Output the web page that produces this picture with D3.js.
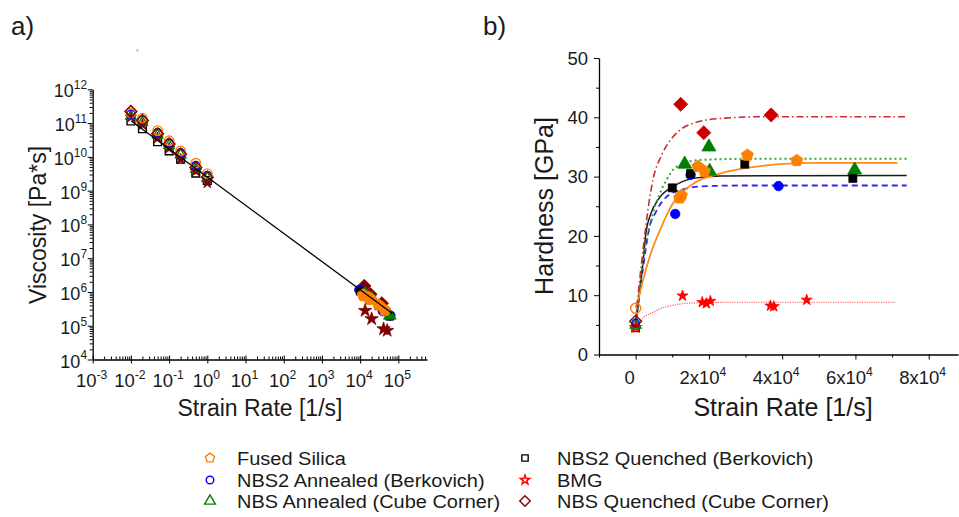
<!DOCTYPE html>
<html>
<head>
<meta charset="utf-8">
<script src="https://cdn.jsdelivr.net/npm/d3@7"></script>
<style>
  body { margin: 0; background: #fff; }
  svg { display: block; font-family: "Liberation Sans", Arial, sans-serif; }
</style>
</head>
<body>
<svg id="chart" width="959" height="517"></svg>
<script>
// ─── DATA ─────────────────────────────────────────────────────────────────────

// a) viscosity vs strain rate, quasi-static range (open markers)
const lowRates      = [0.01, 0.02, 0.05, 0.1, 0.2, 0.5, 1];
const viscFusedLow  = [2.0e11, 1.4e11, 6.0e10, 3.0e10, 1.5e10, 6.5e9, 3.2e9];
const viscNbs2AnLow = [1.8e11, 1.25e11, 5.2e10, 2.6e10, 1.3e10, 5.5e9, 2.8e9];
const viscNbsAnLow  = [1.6e11, 1.05e11, 4.4e10, 2.2e10, 1.15e10, 4.3e9, 2.4e9];
const viscNbs2QuLow = [1.15e11, 6.8e10, 2.8e10, 1.5e10, 8.5e9, 3.3e9, 2.0e9];
const viscBmgLow    = [1.5e11, 9.0e10, 3.6e10, 1.8e10, 8.5e9, 3.8e9, 1.7e9];
const viscNbsQuLow  = [2.2e11, 1.2e11, 4.8e10, 2.4e10, 1.2e10, 4.8e9, 2.5e9];

// a) viscosity at impact strain rates (filled markers)
const rateFusedA  = [12000, 12500, 17000, 18800, 30500, 44000];
const viscFusedA  = [8.2e5, 7.8e5, 6.8e5, 6.0e5, 4.1e5, 2.9e5];
const rateNbs2AnA = [9500, 15000, 39000, 62000];
const viscNbs2AnA = [1.15e6, 7.2e5, 2.7e5, 2.0e5];
const rateNbsAnA  = [13400, 20000, 20200, 59800];
const viscNbsAnA  = [8.8e5, 6.5e5, 5.7e5, 2.0e5];
const rateNbs2QuA = [10000, 15000, 29800, 59300];
const viscNbs2QuA = [1.05e6, 7.4e5, 4.0e5, 1.9e5];
const rateBmgA    = [13500, 20000, 41000, 51000];
const viscBmgA    = [2.8e5, 1.6e5, 8.0e4, 7.2e4];
const rateNbsQuA  = [12800, 18600, 37000];
const viscNbsQuA  = [1.5e6, 8.5e5, 4.6e5];

// a) power-law fit line
const fitRateA = [0.0102, 70000];
const fitViscA = [1.15e11, 2.3e5];

// b) hardness vs strain rate
const rateFused  = [12000, 12500, 17000, 18800, 30500, 44000];
const hardFused  = [26.4, 26.8, 31.7, 30.9, 33.6, 32.7];
const rateNbs2An = [10800, 15000, 39000];
const hardNbs2An = [23.7, 30.3, 28.4];
const rateNbsAn  = [13400, 20000, 20200, 59800];
const hardNbsAn  = [32.1, 35.0, 30.9, 31.1];
const rateNbs2Qu = [10000, 15000, 29800, 59300];
const hardNbs2Qu = [28.1, 30.5, 32.1, 29.7];
const rateBmg    = [12800, 18200, 19300, 20400, 36800, 37700, 46700];
const hardBmg    = [9.9, 8.8, 8.6, 9.0, 8.2, 8.1, 9.2];
const rateNbsQu  = [12300, 18600, 37000];
const hardNbsQu  = [42.2, 37.4, 40.4];

// b) quasi-static hardness (open markers at zero strain rate)
const hardStatic = { fused: 7.8, nbs2An: 5.3, nbsAn: 5.0, nbs2Qu: 4.5, bmg: 4.6, nbsQu: 5.6 };

// b) fitted curves
const curveNbsQuX  = [0, 1000, 2000, 3500, 4700, 7000, 9300, 12000, 15700, 23000, 35000, 74000];
const curveNbsQuY  = [5.6, 12, 17.5, 25, 29.4, 33.5, 36, 37.8, 39, 39.8, 40.1, 40.1];
const curveNbs2QuX = [0, 1000, 2000, 2900, 4000, 6600, 10200, 15700, 23000, 74000];
const curveNbs2QuY = [4.8, 10, 15.5, 20.9, 23.5, 26.5, 28.3, 29.7, 30.1, 30.2];
const curveNbs2AnX = [0, 1000, 2000, 3800, 5500, 7500, 12000, 19300, 30000, 74000];
const curveNbs2AnY = [5.2, 10, 14.5, 21.5, 24, 26.0, 27.7, 28.4, 28.5, 28.5];
const curveNbsAnX  = [0, 1000, 2000, 4700, 6500, 8400, 11000, 17500, 30000, 74000];
const curveNbsAnY  = [5.0, 10.5, 15.5, 23.8, 27, 29.4, 31.6, 32.8, 33.0, 33.0];
const curveFusedX  = [0, 1000, 2000, 3800, 6600, 10200, 15700, 23000, 32000, 39300, 50000, 71500];
const curveFusedY  = [7.8, 10, 12.5, 16.4, 20.9, 25.5, 28.8, 30.5, 31.6, 32.1, 32.3, 32.3];
const curveBmgX    = [0, 2000, 4700, 7000, 10200, 15700, 25000, 71000];
const curveBmgY    = [4.8, 6.2, 7.1, 7.8, 8.3, 8.7, 8.8, 8.8];

// tick values
const logXMajorA = [-3, -2, -1, 0, 1, 2, 3, 4, 5];
const logYMajorA = [4, 5, 6, 7, 8, 9, 10, 11, 12];
const hardTicks  = [0, 10, 20, 30, 40, 50];
const rateTicksB = [0, 2, 4, 6, 8];   // ×10^4

// ─── SYMBOLS & STYLES ─────────────────────────────────────────────────────────

const symbolPentagon = {
  draw(ctx, size) {
    const r = Math.sqrt(size / 2.378);
    for (let i = 0; i < 5; i++) {
      const a = -Math.PI / 2 + i * 2 * Math.PI / 5;
      i ? ctx.lineTo(r * Math.cos(a), r * Math.sin(a)) : ctx.moveTo(r * Math.cos(a), r * Math.sin(a));
    }
    ctx.closePath();
  }
};
const symbolRhomb = {
  draw(ctx, size) {
    const r = Math.sqrt(size / 2);
    ctx.moveTo(0, -r); ctx.lineTo(r, 0); ctx.lineTo(0, r); ctx.lineTo(-r, 0); ctx.closePath();
  }
};

const C = {
  orange: "#ff8000", blue: "#0000ff", green: "#008000", black: "#000000",
  red: "#ff0000", darkRed: "#800000", diamondRed: "#cc0000"
};

const svg = d3.select("#chart");
const sym = (type, size) => d3.symbol().type(type).size(size)();

function marker(g, x, y, type, size, color, filled) {
  g.append("path")
    .attr("d", sym(type, size))
    .attr("transform", `translate(${x},${y})`)
    .attr("fill", filled ? color : "#fff")
    .attr("fill-opacity", filled ? 1 : 0)
    .attr("stroke", color)
    .attr("stroke-width", filled ? 0.8 : 1.4);
}

function pow10Label(g, x, y, base, exp, fs, anchor) {
  const t = g.append("text").attr("x", x).attr("y", y)
    .attr("text-anchor", anchor).attr("font-size", fs).attr("fill", "#1a1a1a");
  t.append("tspan").text(base);
  t.append("tspan").attr("font-size", fs * 0.66).attr("dy", -fs * 0.45).text(exp);
  return t;
}

// ─── PANEL A ──────────────────────────────────────────────────────────────────

const xA = d3.scaleLog().domain([1e-3, Math.pow(10, 5.75)]).range([92.7, 427]);
const yA = d3.scaleLog().domain([1e4, 1e12]).range([359.5, 89.3]);
const gA = svg.append("g");

function logMinor(lo, hi, dom) {
  const out = [];
  for (let e = lo; e <= hi; e++) for (let k = 2; k < 10; k++) {
    const v = k * Math.pow(10, e);
    if (v >= dom[0] && v <= dom[1]) out.push(v);
  }
  return out;
}

// y axis (ticks outward)
gA.append("g").attr("transform", `translate(${xA.range()[0]},0)`)
  .call(d3.axisLeft(yA).tickValues(logMinor(4, 11, yA.domain())).tickSize(3).tickFormat("").tickSizeOuter(0))
  .call(g => g.select(".domain").remove());
gA.append("g").attr("transform", `translate(${xA.range()[0]},0)`)
  .call(d3.axisLeft(yA).tickValues(logYMajorA.map(e => Math.pow(10, e))).tickSize(5).tickFormat("").tickSizeOuter(0))
  .call(g => g.select(".domain").attr("stroke-width", 1.3));
logYMajorA.forEach(e => pow10Label(gA, 87, yA(Math.pow(10, e)) + 8, "10", e, 18, "end"));

// x axis (minor inward, major crossing)
gA.append("g").attr("transform", `translate(0,${yA.range()[0]})`)
  .call(d3.axisBottom(xA).tickValues(logMinor(-3, 5, xA.domain())).tickSize(-3).tickFormat("").tickSizeOuter(0))
  .call(g => g.select(".domain").remove());
gA.append("g").attr("transform", `translate(0,${yA.range()[0]})`)
  .call(d3.axisBottom(xA).tickValues(logXMajorA.map(e => Math.pow(10, e))).tickSize(4).tickFormat("").tickSizeOuter(0))
  .call(g => g.select(".domain").attr("stroke-width", 1.3))
  .call(g => g.selectAll(".tick line").attr("y1", -4));
logXMajorA.forEach(e => pow10Label(gA, xA(Math.pow(10, e)) - 1, 387, "10", e, 18.5, "middle"));

const lowSets = [
  [viscNbs2QuLow, d3.symbolSquare, 60, C.black, false],
  [viscBmgLow, d3.symbolStar, 40, C.darkRed, true],
  [viscNbsAnLow, d3.symbolTriangle, 45, C.green, false],
  [viscNbs2AnLow, d3.symbolCircle, 55, C.blue, false],
  [viscFusedLow, d3.symbolCircle, 70, C.orange, false],
  [viscNbsQuLow, symbolRhomb, 70, C.darkRed, false],
];
lowSets.forEach(([vals, type, size, color, filled]) =>
  lowRates.forEach((r, i) => marker(gA, xA(r), yA(vals[i]), type, size, color, filled)));

const highSetsA = [
  [rateNbsQuA, viscNbsQuA, symbolRhomb, 90, C.darkRed],
  [rateNbs2AnA, viscNbs2AnA, d3.symbolCircle, 70, C.blue],
  [rateNbs2QuA, viscNbs2QuA, d3.symbolSquare, 60, C.black],
  [rateNbsAnA, viscNbsAnA, d3.symbolTriangle, 70, C.green],
  [rateFusedA, viscFusedA, symbolPentagon, 95, C.orange],
  [rateBmgA, viscBmgA, d3.symbolStar, 55, C.darkRed],
];
highSetsA.forEach(([xs, ys, type, size, color]) =>
  xs.forEach((r, i) => marker(gA, xA(r), yA(ys[i]), type, size, color, true)));

gA.append("path")
  .datum(fitRateA.map((r, i) => [r, fitViscA[i]]))
  .attr("d", d3.line().x(d => xA(d[0])).y(d => yA(d[1])))
  .attr("fill", "none").attr("stroke", "#000").attr("stroke-width", 1.3);

gA.append("text").attr("x", 260).attr("y", 416).attr("text-anchor", "middle")
  .attr("font-size", 23).attr("fill", "#1a1a1a").text("Strain Rate [1/s]");
gA.append("text").attr("transform", "translate(38,225) rotate(-90)").attr("dy", "0.35em")
  .attr("text-anchor", "middle").attr("font-size", 23).attr("fill", "#1a1a1a").text("Viscosity [Pa*s]");
gA.append("text").attr("x", 11).attr("y", 35).attr("font-size", 26).attr("fill", "#1a1a1a").text("a)");
gA.append("rect").attr("x", 136).attr("y", 49).attr("width", 3).attr("height", 3).attr("fill", "#d8d8d8");

// ─── PANEL B ──────────────────────────────────────────────────────────────────

const xB = d3.scaleLinear().domain([-1e4, 8.8e4]).range([599, 958]);
const yB = d3.scaleLinear().domain([0, 50]).range([354.5, 58]);
const gB = svg.append("g");

gB.append("g").attr("transform", `translate(${xB.range()[0]},0)`)
  .call(d3.axisLeft(yB).tickValues(d3.range(5, 50, 10)).tickSize(3).tickFormat("").tickSizeOuter(0))
  .call(g => g.select(".domain").remove());
gB.append("g").attr("transform", `translate(${xB.range()[0]},0)`)
  .call(d3.axisLeft(yB).tickValues(hardTicks).tickSize(5).tickFormat("").tickSizeOuter(0))
  .call(g => g.select(".domain").attr("stroke-width", 1.3));
hardTicks.forEach(v => gB.append("text").attr("x", 588).attr("y", yB(v)).attr("dy", "0.36em")
  .attr("text-anchor", "end").attr("font-size", 18.5).attr("fill", "#1a1a1a").text(v));

gB.append("g").attr("transform", `translate(0,${yB.range()[0]})`)
  .call(d3.axisBottom(xB).tickValues([-1e4, 1e4, 3e4, 5e4, 7e4]).tickSize(3).tickFormat("").tickSizeOuter(0))
  .call(g => g.select(".domain").remove());
gB.append("g").attr("transform", `translate(0,${yB.range()[0]})`)
  .call(d3.axisBottom(xB).tickValues(rateTicksB.map(v => v * 1e4)).tickSize(5).tickFormat("").tickSizeOuter(0))
  .call(g => g.select(".domain").attr("stroke-width", 1.3));
rateTicksB.forEach(v => {
  const x = xB(v * 1e4) - 6;
  if (v === 0) gB.append("text").attr("x", x).attr("y", 384).attr("text-anchor", "middle")
    .attr("font-size", 18.5).attr("fill", "#1a1a1a").text("0");
  else pow10Label(gB, x, 384, `${v}x10`, 4, 18.5, "middle");
});

const curves = [
  [curveBmgX, curveBmgY, "#ff5050", 1.1, "1.2,1.2"],
  [curveNbs2AnX, curveNbs2AnY, "#2a2af0", 1.8, "6,4"],
  [curveNbs2QuX, curveNbs2QuY, "#1a1a1a", 1.5, null],
  [curveNbsAnX, curveNbsAnY, "#3aa33a", 2, "2,3"],
  [curveFusedX, curveFusedY, "#ff8c1a", 1.8, null],
  [curveNbsQuX, curveNbsQuY, "#cc2b2b", 1.6, "7,3,1.5,3"],
];
const lineB = d3.line().x(d => xB(d[0])).y(d => yB(d[1])).curve(d3.curveMonotoneX);
curves.forEach(([xs, ys, color, w, dash]) =>
  gB.append("path").datum(xs.map((x, i) => [x, ys[i]])).attr("d", lineB)
    .attr("fill", "none").attr("stroke", color).attr("stroke-width", w)
    .attr("stroke-dasharray", dash));

const pointsB = [
  [rateNbsQu, hardNbsQu, symbolRhomb, 100, C.diamondRed],
  [rateNbsAn, hardNbsAn, d3.symbolTriangle, 85, C.green],
  [rateNbs2An, hardNbs2An, d3.symbolCircle, 70, C.blue],
  [rateNbs2Qu, hardNbs2Qu, d3.symbolSquare, 64, C.black],
  [rateFused, hardFused, symbolPentagon, 95, C.orange],
  [rateBmg, hardBmg, d3.symbolStar, 38, C.red],
];
pointsB.forEach(([xs, ys, type, size, color]) =>
  xs.forEach((r, i) => marker(gB, xB(r), yB(ys[i]), type, size, color, true)));

[
  [hardStatic.nbs2Qu, d3.symbolSquare, 55, C.darkRed],
  [hardStatic.bmg, d3.symbolStar, 30, C.red],
  [hardStatic.nbsAn, d3.symbolTriangle, 50, C.green],
  [hardStatic.nbs2An, d3.symbolCircle, 45, C.blue],
  [hardStatic.nbsQu, symbolRhomb, 70, C.darkRed],
  [hardStatic.fused, d3.symbolCircle, 80, C.orange],
].forEach(([v, type, size, color]) => marker(gB, xB(0), yB(v), type, size, color, false));

gB.append("text").attr("x", 783).attr("y", 416).attr("text-anchor", "middle")
  .attr("font-size", 25).attr("fill", "#1a1a1a").text("Strain Rate [1/s]");
gB.append("text").attr("transform", "translate(544,206) rotate(-90)").attr("dy", "0.35em")
  .attr("text-anchor", "middle").attr("font-size", 25).attr("fill", "#1a1a1a").text("Hardness [GPa]");
gB.append("text").attr("x", 483).attr("y", 35).attr("font-size", 26).attr("fill", "#1a1a1a").text("b)");

// ─── LEGEND ───────────────────────────────────────────────────────────────────

const legendItems = [
  ["Fused Silica", symbolPentagon, C.orange, 0, 0, 55],
  ["NBS2 Annealed (Berkovich)", d3.symbolCircle, C.blue, 0, 1, 45],
  ["NBS Annealed (Cube Corner)", d3.symbolTriangle, C.green, 0, 2, 50],
  ["NBS2 Quenched (Berkovich)", d3.symbolSquare, C.black, 1, 0, 40],
  ["BMG", d3.symbolStar, C.red, 1, 1, 28],
  ["NBS Quenched (Cube Corner)", symbolRhomb, C.darkRed, 1, 2, 55],
];
const legendRowY = [458, 480, 501];
const legendSymX = [210, 525];
const legendTxtX = [237, 557];
const gL = svg.append("g");
legendItems.forEach(([label, type, color, col, row, size]) => {
  marker(gL, legendSymX[col], legendRowY[row], type, size, color, false);
  gL.append("text")
    .attr("transform", `translate(${legendTxtX[col]},${legendRowY[row]}) scale(1.08,1)`)
    .attr("dy", "0.36em").attr("font-size", 18.5).attr("fill", "#1a1a1a").text(label);
});
</script>
</body>
</html>
